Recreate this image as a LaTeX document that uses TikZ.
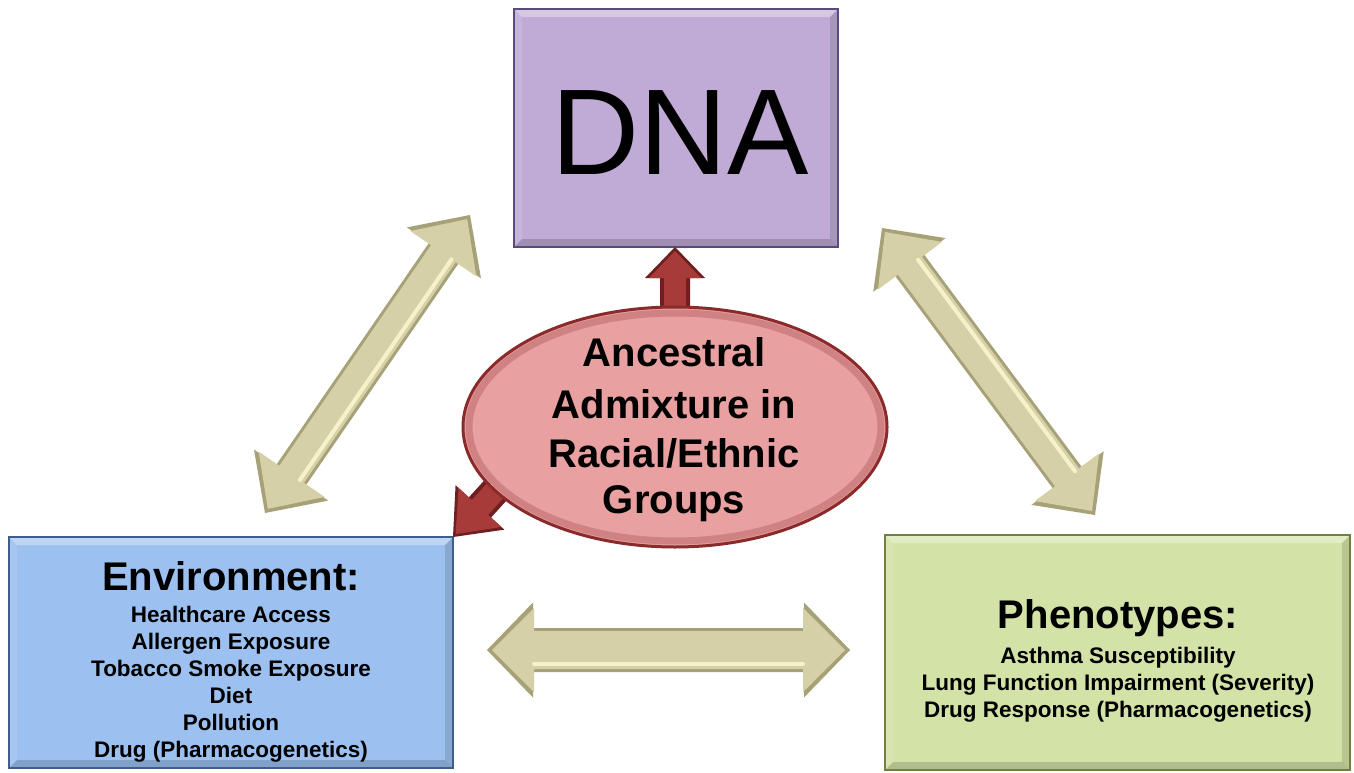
\documentclass[tikz,border=0pt]{standalone}
\usepackage{fontspec}
\setmainfont{Liberation Sans}
\usetikzlibrary{calc,shapes.geometric}
\definecolor{dnafill}{HTML}{BFABD5}
\definecolor{dnaline}{HTML}{5B4A7C}
\definecolor{envfill}{HTML}{9CC0EF}
\definecolor{envline}{HTML}{3D5F8E}
\definecolor{phefill}{HTML}{D3E2A7}
\definecolor{pheline}{HTML}{6F8040}
\definecolor{ancfill}{HTML}{E8A0A0}
\definecolor{ancline}{HTML}{8A2A2A}
\definecolor{bgfill}{HTML}{D5D0A7}
\definecolor{bgdark}{HTML}{A6A176}
\definecolor{bglight}{HTML}{F6F1C8}
\definecolor{redfill}{HTML}{A73B3A}
\definecolor{reddark}{HTML}{6E1F1F}
% double block arrow: prefix, A, B, head length, head half width, shaft half width, style
\newcommand\dblfill[7]{%
  \coordinate (#1a) at ($(#2)!#4!(#3)$);
  \coordinate (#1b) at ($(#3)!#4!(#2)$);
  \fill[#7] (#2) -- ($(#1a)!#5!90:(#3)$) -- ($(#1a)!#6!90:(#3)$) -- ($(#1b)!#6!-90:(#2)$) -- ($(#1b)!#5!-90:(#2)$) -- (#3) -- ($(#1b)!#5!90:(#2)$) -- ($(#1b)!#6!90:(#2)$) -- ($(#1a)!#6!-90:(#3)$) -- ($(#1a)!#5!-90:(#3)$) -- cycle;}
% single block arrow: prefix, tail, tip, head length, head half width, shaft half width, style
\newcommand\sglfill[7]{%
  \coordinate (#1a) at ($(#3)!#4!(#2)$);
  \fill[#7] ($(#2)!#6!90:(#3)$) -- ($(#1a)!#6!-90:(#2)$) -- ($(#1a)!#5!-90:(#2)$) -- (#3) -- ($(#1a)!#5!90:(#2)$) -- ($(#1a)!#6!90:(#2)$) -- ($(#2)!#6!-90:(#3)$) -- cycle;}
% beige bevelled double arrow: prefix, A, B, head half, shaft half, inner head half, inner shaft half
\newcommand\bigdbl[7]{%
  \dblfill{#1o}{#2}{#3}{46pt}{#4}{#5}{bgdark}
  \coordinate (#1p) at ($(#2)!5pt!(#3)$);
  \coordinate (#1q) at ($(#3)!5pt!(#2)$);
  \dblfill{#1i}{#1p}{#1q}{42pt}{#6}{#7}{bgfill}
  \draw[bglight, line width=4pt, line cap=round] ($(#1ia)!#7-5pt!-90:(#1q)$) -- ($(#1ib)!#7-5pt!90:(#1p)$);}
\newcommand\bevel[1]{%
  \fill[white,opacity=.35] (#1.north west) -- (#1.north east) -- ($(#1.north east)+(-8,8)$) -- ($(#1.north west)+(8,8)$) -- cycle;
  \fill[black,opacity=.16] (#1.south west) -- (#1.south east) -- ($(#1.south east)+(-8,-8)$) -- ($(#1.south west)+(8,-8)$) -- cycle;
  \fill[black,opacity=.12] (#1.north east) -- (#1.south east) -- ($(#1.south east)+(-8,-8)$) -- ($(#1.north east)+(-8,8)$) -- cycle;
  \fill[white,opacity=.12] (#1.north west) -- (#1.south west) -- ($(#1.south west)+(8,-8)$) -- ($(#1.north west)+(8,8)$) -- cycle;}
\begin{document}
\begin{tikzpicture}[x=1pt,y=-1pt,
  boxnode/.style={rectangle, inner sep=0pt, outer sep=0pt},
  ttl/.style={font=\bfseries\fontsize{40}{48}\selectfont, anchor=base, inner sep=0pt},
  itm/.style={font=\bfseries\fontsize{22.5}{27}\selectfont, anchor=base, inner sep=0pt}]
\useasboundingbox (0,0) rectangle (1354,773);
\fill[white] (0,0) rectangle (1354,773);

% boxes
\node[boxnode, fill=dnafill, minimum width=324pt, minimum height=238pt] (dna) at (676,128) {};
\node[boxnode, fill=envfill, minimum width=444pt, minimum height=231pt] (env) at (231,652.5) {};
\node[boxnode, fill=phefill, minimum width=465pt, minimum height=235pt] (phe) at (1117.5,652.5) {};
\bevel{dna}\bevel{env}\bevel{phe}
\draw[dnaline, line width=2.5pt] (dna.north west) rectangle (dna.south east);
\draw[envline, line width=2.5pt] (env.north west) rectangle (env.south east);
\draw[pheline, line width=2.5pt] (phe.north west) rectangle (phe.south east);

% beige double arrows
\coordinate (l1) at (265,513);
\coordinate (l2) at (470,215);
\coordinate (r1) at (1095,515);
\coordinate (r2) at (882,228);
\coordinate (h1) at (487,650);
\coordinate (h2) at (850,650);
\bigdbl{la}{l1}{l2}{45pt}{18pt}{40pt}{15pt}
\bigdbl{ra}{r1}{r2}{45pt}{18pt}{40pt}{15pt}
\bigdbl{ha}{h1}{h2}{47.5pt}{22pt}{42pt}{19pt}

% red arrows (tails hidden beneath the ellipse)
\node[ellipse, inner sep=0pt, outer sep=0pt, minimum width=424pt, minimum height=240pt] (anc) at (675,427) {};
\coordinate (upT) at ($(anc.north)+(0,25)$);
\coordinate (upP) at (upT |- dna.south);
\coordinate (dlT) at (525,458);
\coordinate (dlP) at (env.north east);
\sglfill{uo}{upT}{upP}{31pt}{30pt}{15pt}{reddark}
\sglfill{ui}{upT}{$(upP)+(0,4)$}{27pt}{26pt}{11pt}{redfill}
\sglfill{do}{dlT}{dlP}{40pt}{33pt}{15pt}{reddark}
\coordinate (dlQ) at ($(dlP)!4pt!(dlT)$);
\sglfill{di}{dlT}{dlQ}{36pt}{29pt}{11pt}{redfill}

% ellipse
\fill[ancfill] (anc.center) ellipse [x radius=212pt, y radius=120pt];
\draw[ancline, opacity=.25, line width=7pt] (anc.center) ellipse [x radius=206pt, y radius=114pt];
\draw[ancline, line width=3pt] (anc.center) ellipse [x radius=212pt, y radius=120pt];

% texts
\node[anchor=base, inner sep=0pt, font=\fontsize{122}{130}\selectfont] (dnat) at (680,175) {DNA};

\node[ttl] (anc1) at (674,366) {Ancestral};
\node[ttl] (anc2) at (674,418) {Admixture in};
\node[ttl] (anc3) at (674,467) {Racial/Ethnic};
\node[ttl] (anc4) at (674,513) {Groups};

\node[ttl] (envt) at (231,590) {Environment:};
\node[itm] (env1) at (231,622) {Healthcare Access};
\node[itm] (env2) at (231,649) {Allergen Exposure};
\node[itm] (env3) at (231,676) {Tobacco Smoke Exposure};
\node[itm] (env4) at (231,703) {Diet};
\node[itm] (env5) at (231,730) {Pollution};
\node[itm] (env6) at (231,757) {Drug (Pharmacogenetics)};

\node[ttl] (phet) at (1118,628) {Phenotypes:};
\node[itm] (phe1) at (1118,663) {Asthma Susceptibility};
\node[itm] (phe2) at (1118,690) {Lung Function Impairment (Severity)};
\node[itm] (phe3) at (1118,717) {Drug Response (Pharmacogenetics)};
\end{tikzpicture}
\end{document}
